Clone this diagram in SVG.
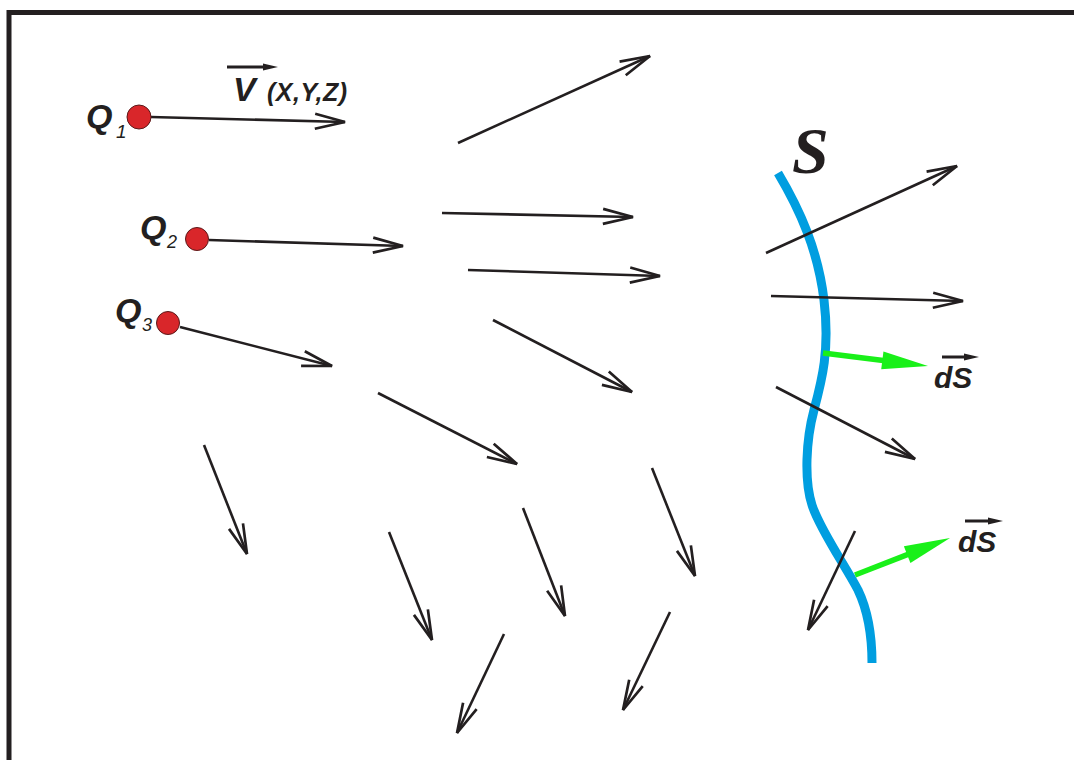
<svg xmlns="http://www.w3.org/2000/svg" width="1074" height="760" viewBox="0 0 1074 760">
<style>
.vec{fill:none;stroke:#231f20;stroke-width:2.6;stroke-linecap:butt;marker-end:url(#ah)}
.lab{font-family:"Liberation Sans",Arial,sans-serif;font-weight:bold;font-style:italic;fill:#231f20}
.sub{font-family:"Liberation Sans",Arial,sans-serif;font-style:italic;fill:#231f20}
.charge{fill:#d9262a;stroke:#5a1a1a;stroke-width:1}
.green{fill:none;stroke:#19f019;stroke-width:5.5;marker-end:url(#gh)}
.over{stroke:#231f20;stroke-width:3;marker-end:url(#sh)}
</style>
<defs>
<marker id="ah" markerUnits="userSpaceOnUse" markerWidth="40" markerHeight="24" viewBox="-34 -12 40 24" refX="0" refY="0" orient="auto" overflow="visible">
<path d="M-30,-7.5 L0,0 L-30,7.5" fill="none" stroke="#231f20" stroke-width="2.7"/>
</marker>
<marker id="gh" markerUnits="userSpaceOnUse" markerWidth="50" markerHeight="24" viewBox="-5 -12 50 24" refX="0" refY="0" orient="auto" overflow="visible">
<path d="M-5,-9 L41,0 L-5,9 Z" fill="#19f019"/>
</marker>
<marker id="sh" markerUnits="userSpaceOnUse" markerWidth="20" markerHeight="10" viewBox="0 -5 20 10" refX="0" refY="0" orient="auto" overflow="visible">
<path d="M0,-3.5 L15,0 L0,3.5 Z" fill="#231f20"/>
</marker>
</defs>
<rect width="1074" height="760" fill="#ffffff"/>
<path id="frame" d="M9,760 V12.5 H1074" fill="none" stroke="#231f20" stroke-width="5"/>

<g id="surface">
<path d="M778,173 C800,210 818,250 824,300 C830,350 822,380 814,410 C806,440 804,480 812,505 C820,530 845,565 858,590 C870,615 872,640 872,663" fill="none" stroke="#009ee0" stroke-width="9"/>
<text x="792" y="173" font-family="'Liberation Serif','Times New Roman',serif" font-weight="bold" font-style="italic" font-size="66" fill="#231f20">S</text>
</g>

<g id="connectors">
<line class="vec" x1="151" y1="117" x2="345" y2="122"/>
<line class="vec" x1="458" y1="143" x2="650" y2="56"/>
<line class="vec" x1="209" y1="240" x2="403" y2="246"/>
<line class="vec" x1="442" y1="213" x2="633" y2="217"/>
<line class="vec" x1="468" y1="270" x2="660" y2="276"/>
<line class="vec" x1="180" y1="327" x2="332" y2="366"/>
<line class="vec" x1="493" y1="320" x2="632" y2="392"/>
<line class="vec" x1="378" y1="393" x2="517" y2="464"/>
<line class="vec" x1="204" y1="445" x2="247" y2="554"/>
<line class="vec" x1="389" y1="532" x2="432" y2="640"/>
<line class="vec" x1="523" y1="508" x2="565" y2="616"/>
<line class="vec" x1="652" y1="468" x2="695" y2="576"/>
<line class="vec" x1="504" y1="634" x2="457" y2="733"/>
<line class="vec" x1="670" y1="612" x2="623" y2="710"/>
<line class="vec" x1="766" y1="253" x2="957" y2="166"/>
<line class="vec" x1="771" y1="296" x2="963" y2="301"/>
<line class="vec" x1="776" y1="387" x2="915" y2="459"/>
<line class="vec" x1="855" y1="531" x2="808" y2="630"/>
<line class="green" x1="823" y1="353" x2="887.3" y2="361"/>
<line class="green" x1="855" y1="575" x2="911.8" y2="552.9"/>
</g>

<g id="Q1">
<circle class="charge" cx="139" cy="117" r="12"/>
<text class="lab" x="86" y="128" font-size="34">Q</text>
<text class="sub" x="116" y="138" font-size="19">1</text>
</g>
<g id="Q2">
<circle class="charge" cx="197" cy="239" r="11.5"/>
<text class="lab" x="140" y="239" font-size="34">Q</text>
<text class="sub" x="167" y="248" font-size="18">2</text>
</g>
<g id="Q3">
<circle class="charge" cx="168" cy="323" r="11.5"/>
<text class="lab" x="115" y="322" font-size="34">Q</text>
<text class="sub" x="142" y="331" font-size="18">3</text>
</g>

<g id="vlabel">
<line class="over" x1="227" y1="67" x2="263" y2="67"/>
<text class="lab" x="233" y="101" font-size="34">V</text>
<text class="lab" x="267" y="101" font-size="25" textLength="80" lengthAdjust="spacing">(X,Y,Z)</text>
</g>
<g id="dS1">
<line class="over" x1="942" y1="357" x2="964" y2="357"/>
<text class="lab" x="934" y="388" font-size="30">dS</text>
</g>
<g id="dS2">
<line class="over" x1="965" y1="521" x2="988" y2="521"/>
<text class="lab" x="958" y="552" font-size="30">dS</text>
</g>
</svg>
